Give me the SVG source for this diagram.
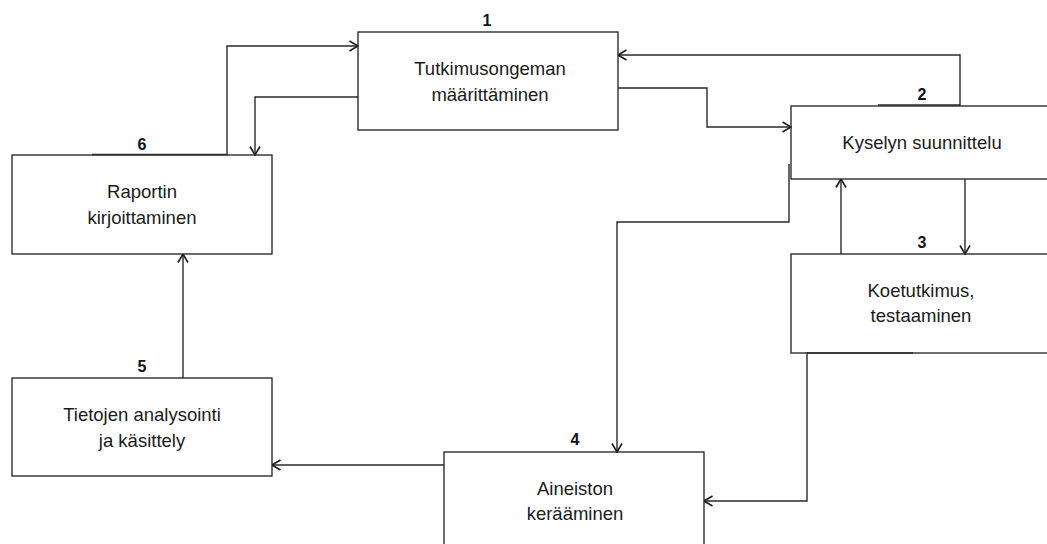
<svg xmlns="http://www.w3.org/2000/svg" width="1047" height="544" viewBox="0 0 1047 544">
  <style>
    .box { fill: #ffffff; stroke: #1e1e1e; stroke-width: 1.3; }
    .lbl { font-family: "Liberation Sans", Arial, sans-serif; font-size: 18.5px; fill: #1a1a1a; text-anchor: middle; }
    .num { font-family: "Liberation Sans", Arial, sans-serif; font-size: 16px; font-weight: bold; fill: #111111; text-anchor: middle; }
    .wire { fill: none; stroke: #2a2a2a; stroke-width: 1.4; marker-end: url(#head); }
  </style>
  <defs>
    <marker id="head" viewBox="0 0 10 12" refX="9.5" refY="6" markerWidth="10" markerHeight="12" markerUnits="userSpaceOnUse" orient="auto">
      <path d="M1,1 L9.5,6 L1,11" fill="none" stroke="#1e1e1e" stroke-width="1.6"/>
    </marker>
  </defs>

  <rect width="1047" height="544" fill="#ffffff"/>

  <!-- process steps -->
  <g id="step1">
    <rect class="box" x="358" y="32" width="260" height="98"/>
    <text class="num" x="487" y="26">1</text>
    <text class="lbl" x="490" y="75">Tutkimusongeman</text>
    <text class="lbl" x="490" y="101">määrittäminen</text>
  </g>
  <g id="step2">
    <rect class="box" x="791" y="106" width="300" height="73"/>
    <text class="num" x="922" y="100">2</text>
    <text class="lbl" x="922" y="149">Kyselyn suunnittelu</text>
  </g>
  <g id="step3">
    <rect class="box" x="791" y="254" width="300" height="99"/>
    <text class="num" x="922" y="248">3</text>
    <text class="lbl" x="921" y="297">Koetutkimus,</text>
    <text class="lbl" x="921" y="322">testaaminen</text>
  </g>
  <g id="step4">
    <rect class="box" x="444" y="452" width="260" height="120"/>
    <text class="num" x="575" y="445">4</text>
    <text class="lbl" x="575" y="495">Aineiston</text>
    <text class="lbl" x="575" y="520">kerääminen</text>
  </g>
  <g id="step5">
    <rect class="box" x="12" y="378" width="260" height="98"/>
    <text class="num" x="142" y="372">5</text>
    <text class="lbl" x="142" y="421">Tietojen analysointi</text>
    <text class="lbl" x="142" y="447">ja käsittely</text>
  </g>
  <g id="step6">
    <rect class="box" x="12" y="155" width="260" height="99"/>
    <text class="num" x="142" y="150">6</text>
    <text class="lbl" x="142" y="198">Raportin</text>
    <text class="lbl" x="142" y="224">kirjoittaminen</text>
  </g>

  <!-- flow between steps -->
  <g id="connectors">
    <path class="wire" d="M92,154.5 H227 V46 H358"/>
    <path class="wire" d="M358,97 H255 V155"/>
    <path class="wire" d="M618,88 H707 V127 H791"/>
    <path class="wire" d="M878,105 H960 V55 H618"/>
    <path class="wire" d="M965,179 V254"/>
    <path class="wire" d="M841,254 V179"/>
    <path class="wire" d="M789,164 V222 H617 V452"/>
    <path class="wire" d="M913,353 H807 V501 H704"/>
    <path class="wire" d="M444,465 H272"/>
    <path class="wire" d="M183,378 V254"/>
  </g>
</svg>
